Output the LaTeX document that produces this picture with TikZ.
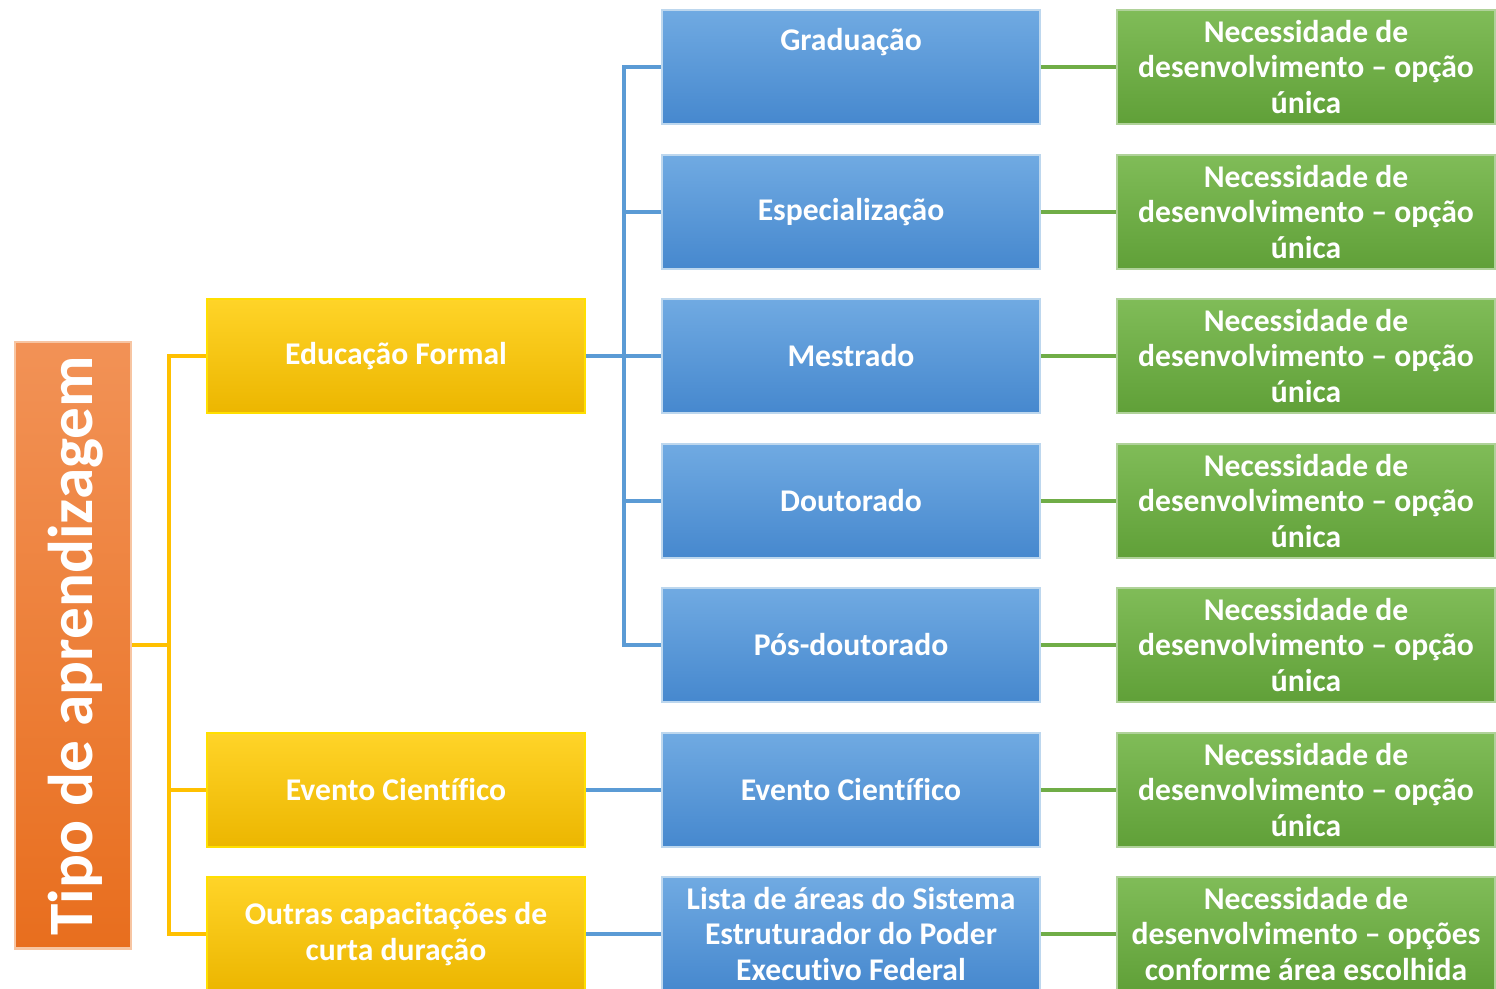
\documentclass[tikz,border=0pt]{standalone}
\usepackage{fontspec}
\setmainfont[Ligatures=NoCommon]{Carlito}
\usetikzlibrary{calc}

\definecolor{azul}{HTML}{5B9BD5}
\definecolor{verde}{HTML}{70AD47}
\definecolor{amarelo}{HTML}{FFC000}
\definecolor{laranja}{HTML}{ED7D31}
\definecolor{azulA}{RGB}{112,170,226}
\definecolor{azulB}{RGB}{70,136,206}
\definecolor{verdeA}{RGB}{128,188,88}
\definecolor{verdeB}{RGB}{96,160,56}
\definecolor{amareloA}{RGB}{255,212,40}
\definecolor{amareloB}{RGB}{236,182,0}
\definecolor{laranjaA}{RGB}{242,146,86}
\definecolor{laranjaB}{RGB}{232,110,30}

\tikzset{
  caixa/.style={minimum width=7.56cm, minimum height=2.28cm, inner sep=0pt,
    align=center, text=white, font=\fontsize{18}{20}\selectfont\bfseries,
    line width=1.2pt},
  cazul/.style={caixa, top color=azulA, bottom color=azulB, draw=azul!40!white},
  cverde/.style={caixa, top color=verdeA, bottom color=verdeB, draw=verde!55!white},
  camarelo/.style={caixa, top color=amareloA, bottom color=amareloB, draw=amarelo!50!yellow},
  llinha/.style={amarelo, line width=1.8pt},
  blinha/.style={azul, line width=1.8pt},
  glinha/.style={verde, line width=1.8pt}
}

\begin{document}
\begin{tikzpicture}[x=0.02cm, y=-0.02cm]
\useasboundingbox (0,0) rectangle (1496,989);

% tipo de aprendizagem
\node[minimum width=2.32cm, minimum height=12.14cm, inner sep=0pt,
  top color=laranjaA, bottom color=laranjaB, draw=laranja!45!white,
  line width=1.2pt] (tipo) at (73,645) {};
\node[rotate=90, text=white, font=\fontsize{36}{40}\selectfont\bfseries] at (76,646) {Tipo de aprendizagem};

% primeiro nivel
\node[camarelo] (formal) at (396,356) {Educação Formal};
\node[camarelo] (evento) at (396,790) {Evento Científico};
\node[camarelo] (outras) at (396,934) {Outras capacitações de\\curta duração};

% segundo nivel
\node[cazul] (grad) at (851,67) {};
\node[text=white, font=\fontsize{18}{20}\selectfont\bfseries] at (851,42) {Graduação};
\node[cazul] (espec) at (851,212) {Especialização};
\node[cazul] (mest) at (851,356) {Mestrado};
\node[cazul] (dout) at (851,501) {Doutorado};
\node[cazul] (posd) at (851,645) {Pós-doutorado};
\node[cazul] (evento2) at (851,790) {Evento Científico};
\node[cazul] (lista) at (851,934) {Lista de áreas do Sistema\\Estruturador do Poder\\Executivo Federal};

% terceiro nivel
\foreach \n/\y in {n1/67, n2/212, n3/356, n4/501, n5/645, n6/790}
  \node[cverde] (\n) at (1306,\y) {Necessidade de\\desenvolvimento -- opção\\única};
\node[cverde] (n7) at (1306,934) {Necessidade de\\desenvolvimento -- opções\\conforme área escolhida};

% ligacoes
\coordinate (yj) at (169,645);
\coordinate (bj) at (624,356);
\draw[llinha] (tipo.east) -- (yj);
\foreach \a in {formal, evento, outras}
  \draw[llinha] (\a.west) -| (yj);
\draw[blinha] (formal.east) -- (bj);
\foreach \a in {grad, espec, mest, dout, posd}
  \draw[blinha] (bj) |- (\a.west);
\draw[blinha] (evento.east) -- (evento2.west);
\draw[blinha] (outras.east) -- (lista.west);
\foreach \a/\b in {grad/n1, espec/n2, mest/n3, dout/n4, posd/n5, evento2/n6, lista/n7}
  \draw[glinha] (\a.east) -- (\b.west);
\end{tikzpicture}
\end{document}
